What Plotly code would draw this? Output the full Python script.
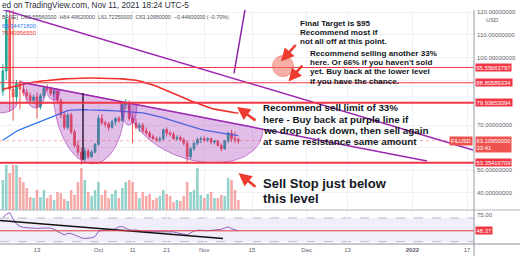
import numpy as np
import pandas as pd
import plotly.graph_objects as go

W, H = 520, 272

# ---------------- data ----------------
dates = pd.date_range("2021-09-03", periods=70, freq="D")
opens = [85, 94, 117, 86, 82.5, 88.5, 86, 84.5, 83, 81,
         82.5, 78, 83, 86.5, 86, 84, 85, 81, 74.5, 69,
         74.5, 67, 61, 58, 55, 58.5, 56, 58, 61.5, 73,
         71, 70.5, 69, 71.5, 73, 72, 79, 80, 73, 71,
         69, 70, 67.5, 66.5, 65, 64, 63.5, 64, 68, 66.5,
         66, 64, 64.5, 63.5, 62, 56, 59.5, 62, 63.5, 64,
         63.5, 64, 62.5, 63, 61, 59.5, 63, 66.5, 64, 63.5556]
highs = [97, 125, 128, 122, 90, 90, 88, 86, 84.5, 83.5,
         84.5, 84, 87.5, 88, 87, 86, 86, 82, 76, 75.5,
         75.5, 68, 63, 60, 60, 59.5, 59, 62, 74.5, 75,
         72, 71.5, 72.5, 73.5, 74, 80, 81.5, 81, 75, 73,
         71, 71, 69, 67.5, 66, 65, 65, 68.5, 69, 67.5,
         67, 65.5, 65.5, 64.5, 63, 60.5, 62.5, 64.5, 65, 65,
         64.5, 64.5, 63.5, 63.5, 62, 63.5, 67, 68, 67, 64.4962]
lows = [83, 90, 76, 72, 80, 77, 83, 81, 80, 79.5,
        73, 77, 82, 85, 83, 82.5, 80, 73, 68, 68,
        66, 60, 56.5, 52.5, 54, 55, 55.5, 57.5, 61, 70,
        69, 67.5, 68.5, 70, 71, 71.5, 77, 72, 62, 68,
        67, 66.5, 65.5, 64, 63.5, 62.5, 62.5, 63, 65, 65,
        63.5, 63, 63, 61, 53.5, 55, 58.5, 61, 62, 62.5,
        62.5, 61.5, 61.5, 60.5, 58.5, 59, 62, 62.5, 62, 61.7235]
closes = [94, 117, 86, 82.5, 88.5, 86, 84.5, 83, 81, 82.5,
          78, 83, 86.5, 86, 84, 85, 81, 74.5, 69, 74.5,
          67, 61, 58, 55, 58.5, 56, 58, 61.5, 73, 71,
          70.5, 69, 71.5, 73, 72, 79, 80, 73, 71, 69,
          70, 67.5, 66.5, 65, 64, 63.5, 64, 68, 66.5, 66,
          64, 64.5, 63.5, 62, 56, 59.5, 62, 63.5, 64, 63.5,
          64, 62.5, 63, 61, 59.5, 63, 66.5, 64, 63.5556, 63.1095]
volume_m = [3.0, 4.5, 3.7, 4.5, 4.5, 3.3, 2.8, 2.2, 1.3, 1.2,
            2.0, 1.3, 2.0, 1.2, 1.5, 1.0, 1.8, 1.7, 1.1, 0.9,
            2.0, 1.5, 2.8, 4.2, 3.0, 1.8, 1.4, 2.0, 2.8, 1.5,
            2.0, 1.2, 1.6, 2.0, 1.2, 2.2, 2.8, 3.0, 2.8, 1.8,
            1.2, 1.8, 1.4, 1.6, 1.0, 1.2, 1.4, 2.0, 1.6, 1.4,
            0.8, 1.0, 0.9, 1.4, 2.8, 1.8, 2.0, 4.2, 1.5, 1.2,
            1.6, 1.8, 1.2, 1.2, 1.5, 1.4, 3.2, 3.0, 2.0, 1.0]
ma_red = [85.9, 86.3, 86.8, 87.2, 87.6, 87.9, 88.2, 88.5, 88.8, 89.1,
          89.3, 89.5, 89.7, 89.8, 90.0, 90.1, 90.3, 90.4, 90.5, 90.6,
          90.7, 90.8, 90.8, 90.9, 90.9, 90.9, 90.9, 90.9, 90.9, 90.9,
          90.9, 90.8, 90.8, 90.7, 90.6, 90.5, 90.4, 90.3, 90.1, 89.9,
          89.6, 89.2, 88.8, 88.3, 87.8, 87.2, 86.6, 86.0, 85.4, 84.8,
          84.1, 83.5, 82.8, 82.1, 81.5, 80.8, 80.2, 79.6, 79.0, 78.5,
          78.0, 77.5, 77.1, 76.8, 76.5, 76.2, 75.9, 75.7, 75.5, 75.41]
ma_blue = [63.3, 64.4, 65.5, 66.5, 67.3, 68.0, 68.6, 69.2, 69.8, 70.4,
           70.9, 71.5, 72.1, 72.7, 73.3, 73.9, 74.6, 75.3, 75.9, 76.4,
           76.7, 76.8, 76.9, 76.9, 76.9, 76.8, 76.8, 76.8, 76.7, 76.7,
           76.6, 76.5, 76.4, 76.3, 76.3, 76.2, 76.1, 76.0, 75.9, 75.8,
           75.6, 75.4, 75.1, 74.8, 74.5, 74.1, 73.7, 73.3, 72.8, 72.3,
           71.8, 71.3, 70.8, 70.3, 69.8, 69.3, 68.9, 68.5, 68.1, 67.8,
           67.5, 67.2, 66.9, 66.7, 66.4, 66.2, 66.0, 65.8, 65.6, 65.34]
rsi = [71, 76, 79, 68, 60, 56, 54, 53.5, 53, 52.5,
       52.5, 52.8, 53.5, 53.2, 52.8, 51, 47.5, 44, 41.5, 44,
       43.5, 41.5, 39, 36.5, 35.5, 35.7, 36.5, 38.5, 47, 49.5,
       50, 49.5, 50, 52, 55, 55.5, 52.5, 50, 49.5, 49.7,
       48.5, 47, 47, 47, 46.5, 46, 46, 46.5, 47, 47,
       46.5, 45, 44, 42.5, 41.5, 45, 48, 49.5, 49.7, 49,
       48.5, 49, 49.7, 50, 51, 53, 55, 52, 50, 48.37]

levels = [95.55663797, 88.80589334, 79.93653094, 53.35416709]
level_labels = ["95.55663797", "88.80589334", "79.93653094", "53.35416709"]
last_price = 63.1095
rsi_level = 48.37

price_ticks = [40, 50, 60, 70, 80, 90, 100, 110, 120]
price_tick_text = ["40.00000000", "50.00000000", "", "70.00000000", "", "",
                   "100.00000000", "110.00000000", "120.00000000"]
time_ticks = ["2021-09-13", "2021-10-01", "2021-10-11", "2021-10-21", "2021-11-01",
              "2021-11-15", "2021-12-01", "2021-12-13", "2022-01-01", "2022-01-17"]
time_tick_text = ["13", "Oct", "11", "21", "Nov", "15", "Dec", "13", "<b>2022</b>", "17"]

# drawings (date, price)
line_a = [("2021-09-02 03:49", 121.64), ("2022-01-18 18:00", 58.98)]
line_b = [("2021-09-08 00:30", 89.14), ("2022-01-05 06:30", 54.10)]
line_c = [("2021-11-09 17:17", 93.0), ("2021-11-13 10:33", 125.5)]
line_v = [("2021-09-26 11:30", 84.26), ("2021-09-26 11:30", 54.55)]
rsi_trend = [("2021-09-02 03:49", 65.8), ("2021-11-06 12:00", 35.4)]
# cups: start, end, chord start, chord end (None = on neckline), bottom
cups = [
    ("2021-08-28 08:00", "2021-09-07 03:20", 79.82, 79.82, 75.39),
    ("2021-09-08 21:30", "2021-09-15 15:20", None, None, 77.6),
    ("2021-09-15 15:20", "2021-09-19 17:40", None, None, 81.15),
    ("2021-09-17 16:30", "2021-10-08 18:45", None, None, 53.0),
    ("2021-10-07 07:40", "2021-10-12 07:10", None, None, 70.07),
    ("2021-10-09 15:50", "2021-11-18 05:15", None, None, 54.1),
]
target_center = ("2021-11-24 02:00", 96.2)

note_target = ["Final Target is $95", "Recommend most if", "not all off at this point."]
note_sell66 = ["Recommend selling another 33%", "here. Or 66% if you haven't sold",
               "yet. Buy back at the lower level", "if you have the chance."]
note_sell33 = ["Recommend sell limit of 33%", "here - Buy back at purple line if",
               "we drop back down, then sell again", "at same resistance same amount"]
note_stop = ["Sell Stop just below", "this level"]

# ---------------- layout constants ----------------
def px(x):
    return x / W

def py(y):
    return 1 - y / H

XD = px(474)
MAIN = [py(210), py(10)]
RSIP = [py(244), py(211)]
PRICE_RANGE = [32.37, 121.06]
RSI_RANGE = [26.1, 81.8]
X_RANGE = ["2021-09-02 03:49", "2022-01-19 00:58"]
GRID = "#f0f1f4"
AX = "#5d606b"
RED = "#f23645"
PURPLE = "#9c27b0"
FONT = "Liberation Sans"

fig = go.Figure()

vol_colors = ["rgba(38,166,154,0.5)" if c >= o else "rgba(239,83,80,0.5)"
              for o, c in zip(opens, closes)]
fig.add_trace(go.Bar(x=dates, y=volume_m, marker_color=vol_colors, marker_line_width=0,
                     xaxis="x", yaxis="y"))

fig.add_trace(go.Candlestick(
    x=dates, open=opens, high=highs, low=lows, close=closes, xaxis="x", yaxis="y3",
    increasing=dict(line=dict(color="#26a69a", width=1), fillcolor="#26a69a"),
    decreasing=dict(line=dict(color="#ef5350", width=1), fillcolor="#ef5350"),
    whiskerwidth=0))

fig.add_trace(go.Scatter(x=dates, y=ma_blue, mode="lines", xaxis="x", yaxis="y3",
                         line=dict(color="#2f7bf2", width=1.3)))
fig.add_trace(go.Scatter(x=dates, y=ma_red, mode="lines", xaxis="x", yaxis="y3",
                         line=dict(color="#f0302a", width=1.6)))

# neckline helper
nb0, nb1 = pd.Timestamp(line_b[0][0]), pd.Timestamp(line_b[1][0])


def neck(d):
    f = (d - nb0) / (nb1 - nb0)
    return line_b[0][1] + f * (line_b[1][1] - line_b[0][1])


t = np.linspace(0, np.pi, 70)
frac = (1 - np.cos(t)) / 2
for s, e, c0, c1, bottom in cups:
    s, e = pd.Timestamp(s), pd.Timestamp(e)
    if c0 is None:
        c0, c1 = neck(s), neck(e)
    ds = [s + f * (e - s) for f in frac]
    chord = c0 + frac * (c1 - c0)
    depth = (c0 + c1) / 2 - bottom
    ys = chord - depth * np.sin(t)
    xs = ds + [s]
    ys = list(ys) + [c0]
    fig.add_trace(go.Scatter(x=xs, y=ys, mode="lines", fill="toself", xaxis="x", yaxis="y3",
                             fillcolor="rgba(156,39,176,0.30)",
                             line=dict(color="rgba(156,39,176,0.55)", width=1)))

for ln, col, wd in [(line_a, PURPLE, 1.5), (line_b, PURPLE, 1.5), (line_c, "#8e24aa", 1.5),
                    (line_v, "#2a1a33", 1.5)]:
    fig.add_trace(go.Scatter(x=[p[0] for p in ln], y=[p[1] for p in ln], mode="lines",
                             xaxis="x", yaxis="y3", line=dict(color=col, width=wd)))

# RSI pane
fig.add_trace(go.Scatter(x=dates, y=rsi, mode="lines", xaxis="x2", yaxis="y2",
                         line=dict(color="#8e5cc4", width=1)))
fig.add_trace(go.Scatter(x=[p[0] for p in rsi_trend], y=[p[1] for p in rsi_trend], mode="lines",
                         xaxis="x2", yaxis="y2", line=dict(color="#111111", width=1.5)))

shapes = []
shapes.append(dict(type="rect", xref="paper", yref="y2", x0=0, x1=XD, y0=30, y1=70,
                   fillcolor="rgba(126,87,194,0.10)", line=dict(width=0), layer="below"))
for v in (70, 30):
    shapes.append(dict(type="line", xref="paper", yref="y2", x0=0, x1=XD, y0=v, y1=v,
                       line=dict(color="#b8bac2", width=1, dash="dash"), layer="below"))
shapes.append(dict(type="line", xref="paper", yref="y2", x0=0, x1=XD, y0=rsi_level, y1=rsi_level,
                   line=dict(color="#e0393e", width=1)))
for lv, wd in zip(levels, [1.2, 1.2, 1.8, 2]):
    shapes.append(dict(type="line", xref="paper", yref="y3", x0=0, x1=XD, y0=lv, y1=lv,
                       line=dict(color=RED, width=wd)))
shapes.append(dict(type="line", xref="paper", yref="y3", x0=0, x1=XD, y0=last_price, y1=last_price,
                   line=dict(color="rgba(239,83,80,0.45)", width=1, dash="dot")))
shapes.append(dict(type="circle", xref="x", yref="y3", xsizemode="pixel", ysizemode="pixel",
                   xanchor=target_center[0], yanchor=target_center[1],
                   x0=-10.5, x1=10.5, y0=-10.5, y1=10.5,
                   fillcolor="rgba(242,112,92,0.55)", line=dict(color="rgba(235,90,70,0.5)", width=1)))
shapes.append(dict(type="line", xref="paper", yref="paper", x0=0, x1=1, y0=py(210), y1=py(210),
                   line=dict(color="#b2b5be", width=1)))
shapes.append(dict(type="line", xref="paper", yref="paper", x0=0, x1=1, y0=py(244), y1=py(244),
                   line=dict(color="#b2b5be", width=1.5)))
shapes.append(dict(type="line", xref="paper", yref="paper", x0=XD, x1=XD, y0=py(256), y1=py(10),
                   line=dict(color="#9598a1", width=1)))

ann = []


def label_box(y, text, yref="y3", bg="#f23645", size=5.8, **kw):
    d = dict(xref="paper", yref=yref, x=XD + 0.5 / W, y=y, xanchor="left", yanchor="middle",
             text=text, showarrow=False, bgcolor=bg, borderpad=0.6,
             font=dict(family=FONT, size=size, color="white"), align="left")
    d.update(kw)
    ann.append(d)


for lv, lt in zip(levels, level_labels):
    label_box(lv, lt)
label_box(last_price, "63.10950000<br>33:41", bg="#ef5350", yanchor="top", yshift=4.5)
ann.append(dict(xref="paper", yref="y3", x=px(473), y=last_price, xanchor="right", yanchor="middle",
                text="FILUSD", showarrow=False, bgcolor="#ef5350", borderpad=1,
                font=dict(family=FONT, size=5.6, color="white")))
label_box(rsi_level, "48.37", yref="y2", bg="#f23645")
ann.append(dict(xref="paper", yref="paper", x=px(492), y=py(20.3), xanchor="center", yanchor="middle",
                text="USD", showarrow=False, font=dict(family=FONT, size=5.8, color=AX)))

# header
ann.append(dict(xref="paper", yref="paper", x=0, y=py(5), xanchor="left", yanchor="middle",
                text="ed on TradingView.com, Nov 11, 2021 18:24 UTC-5", showarrow=False,
                font=dict(family=FONT, size=8.2, color="#2a2e39")))
ann.append(dict(xref="paper", yref="paper", x=0, y=py(17), xanchor="left", yanchor="middle",
                text="BASE]  O63.55560000  H64.49620000  L61.72350000  C63.10950000  \u22120.44600000 (\u22120.70%)",
                showarrow=False, font=dict(family=FONT, size=5.4, color="#4a4d57")))
ann.append(dict(xref="paper", yref="paper", x=0, y=py(25.5), xanchor="left", yanchor="middle",
                text="65.34471800", showarrow=False, font=dict(family=FONT, size=5.8, color="#2f7bf2")))
ann.append(dict(xref="paper", yref="paper", x=0, y=py(33), xanchor="left", yanchor="middle",
                text="75.40956950", showarrow=False, font=dict(family=FONT, size=5.8, color="#f0302a")))


def text_block(lines, x, ys, size):
    for ln, yy in zip(lines, ys):
        ann.append(dict(xref="paper", yref="paper", x=px(x), y=py(yy), xanchor="left",
                        yanchor="middle", text=ln, showarrow=False, borderpad=0,
                        font=dict(family=FONT, size=size, color="#131722", weight=700)))


text_block(note_target, 299, [23.2, 32.4, 41.6], 8.1)
text_block(note_sell66, 309, [53.4, 62.6, 71.8, 81.0], 8.1)
text_block(note_sell33, 262, [108, 119.2, 130.4, 141.6], 9.8)
text_block(note_stop, 262, [183, 198], 13)


def arrow(hx, hy, tx, ty):
    ann.append(dict(xref="paper", yref="paper", x=px(hx), y=py(hy), ax=tx - hx, ay=ty - hy,
                    axref="pixel", ayref="pixel", text="", showarrow=True, arrowhead=2,
                    arrowsize=1.0, arrowwidth=2.6, arrowcolor="#ee3b2f", standoff=0, startstandoff=0))


arrow(281, 61.5, 297, 43.5)
arrow(288.5, 81.5, 303.5, 64)
arrow(237, 107, 257, 121.5)
arrow(238.5, 173, 257, 188)

fig.update_layout(
    width=W, height=H, margin=dict(l=0, r=0, t=0, b=0),
    paper_bgcolor="white", plot_bgcolor="white", showlegend=False, hovermode=False,
    font=dict(family=FONT, color=AX),
    shapes=shapes, annotations=ann, bargap=0.25,
    xaxis=dict(domain=[0, XD], range=X_RANGE, type="date", anchor="y", showticklabels=False,
               tickvals=time_ticks, showgrid=True, gridcolor=GRID, zeroline=False, showline=False,
               rangeslider=dict(visible=False), ticks=""),
    yaxis=dict(domain=MAIN, range=[0, 20], visible=False, showgrid=False),
    yaxis3=dict(overlaying="y", anchor="x", side="right", range=PRICE_RANGE, tickvals=price_ticks,
                ticktext=price_tick_text, tickfont=dict(size=6, color=AX, family=FONT),
                showgrid=True, gridcolor=GRID, zeroline=False, ticks="", ticklabelstandoff=2,
                showline=False),
    xaxis2=dict(domain=[0, XD], anchor="y2", matches="x", type="date", tickvals=time_ticks,
                ticktext=time_tick_text, tickfont=dict(size=6, color=AX, family=FONT),
                showgrid=True, gridcolor=GRID, zeroline=False, ticks="", ticklabelstandoff=1,
                showline=False),
    yaxis2=dict(domain=RSIP, anchor="x2", side="right", range=RSI_RANGE, tickvals=[75],
                ticktext=["75.00"], tickfont=dict(size=6, color=AX, family=FONT),
                showgrid=False, zeroline=False, ticks="", ticklabelstandoff=2),
)

fig.write_html("out.html")
